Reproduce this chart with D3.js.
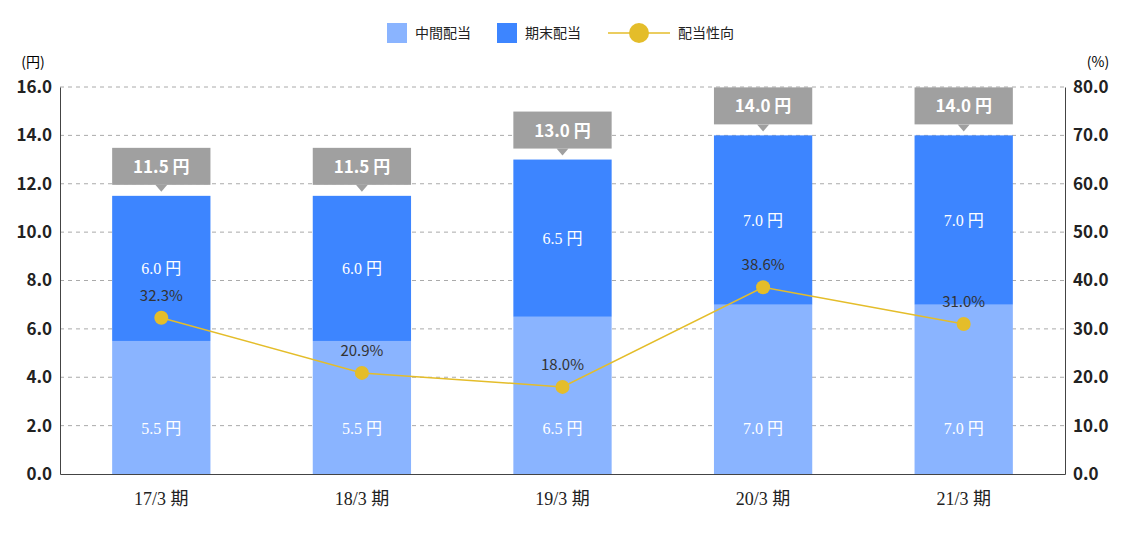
<!DOCTYPE html>
<html><head><meta charset="utf-8">
<script src="https://cdn.jsdelivr.net/npm/d3@7"></script>
<style>body{margin:0;background:#fff}</style></head>
<body><div id="chart"></div>
<script>
var periods = ["17/3 期", "18/3 期", "19/3 期", "20/3 期", "21/3 期"];
var interim = [5.5, 5.5, 6.5, 7.0, 7.0];
var yearEnd = [6.0, 6.0, 6.5, 7.0, 7.0];
var payout = [32.3, 20.9, 18.0, 38.6, 31.0];
var leftTicks = [0, 2, 4, 6, 8, 10, 12, 14, 16];
var rightTicks = [0, 10, 20, 30, 40, 50, 60, 70, 80];

var W = 1130, H = 538;
var m = {top: 87, right: 65, bottom: 64, left: 60};
var width = W - m.left - m.right, height = H - m.top - m.bottom;
var cLight = "#8ab4ff", cDark = "#3d85ff", cLine = "#e4bd2a";
var sans = "'Noto Sans CJK JP','Noto Sans',sans-serif";

var svg = d3.select("#chart").append("svg").attr("width", W).attr("height", H)
  .style("font-family", sans);
var g = svg.append("g").attr("transform", "translate(" + m.left + "," + m.top + ")");

var x = d3.scaleBand().domain(periods).range([0, width]).paddingInner(0.51).paddingOuter(0.26);
var y = d3.scaleLinear().domain([0, 16]).range([height, 0]);
var y2 = d3.scaleLinear().domain([0, 80]).range([height, 0]);

// grid
g.selectAll(".grid").data(leftTicks.slice(1)).enter().append("line")
  .attr("x1", 0).attr("x2", width).attr("y1", d => y(d)).attr("y2", d => y(d))
  .attr("stroke", "#aaa").attr("stroke-dasharray", "4,4");

// axes
var ax = g.append("g").call(d3.axisLeft(y).tickValues(leftTicks).tickFormat(d3.format(".1f")).tickSize(0).tickPadding(8));
var ax2 = g.append("g").attr("transform", "translate(" + width + ",0)")
  .call(d3.axisRight(y2).tickValues(rightTicks).tickFormat(d3.format(".1f")).tickSize(0).tickPadding(8));
[ax, ax2].forEach(a => {
  a.select(".domain").attr("stroke", "#444");
  a.selectAll("text").attr("font-size", 17).attr("font-weight", "bold").attr("fill", "#222").attr("font-family", sans);
});
var xa = g.append("g").attr("transform", "translate(0," + height + ")")
  .call(d3.axisBottom(x).tickSize(0).tickPadding(18));
xa.select(".domain").attr("stroke", "#444");
xa.selectAll("text").attr("font-size", 18).attr("fill", "#222").attr("font-family", "'Liberation Serif','Noto Sans CJK JP',serif");

svg.append("text").attr("x", 33).attr("y", 67).attr("text-anchor", "middle").attr("font-size", 14).text("(円)");
svg.append("text").attr("x", 1098).attr("y", 67).attr("text-anchor", "middle").attr("font-size", 14).text("(%)");

// bars
var bw = x.bandwidth();
g.selectAll(".b1").data(periods).enter().append("rect")
  .attr("x", d => x(d)).attr("width", bw)
  .attr("y", (d, i) => y(interim[i])).attr("height", (d, i) => height - y(interim[i])).attr("fill", cLight);
g.selectAll(".b2").data(periods).enter().append("rect")
  .attr("x", d => x(d)).attr("width", bw)
  .attr("y", (d, i) => y(interim[i] + yearEnd[i])).attr("height", (d, i) => y(interim[i]) - y(interim[i] + yearEnd[i])).attr("fill", cDark);

var segFont = "'Liberation Serif','Noto Sans CJK JP',serif";
g.selectAll(".l1").data(periods).enter().append("text")
  .attr("x", d => x(d) + bw / 2).attr("y", y(1.9) + 6)
  .attr("text-anchor", "middle").attr("fill", "#fff").attr("font-size", 16).attr("font-family", segFont)
  .text((d, i) => interim[i].toFixed(1) + " 円");
g.selectAll(".l2").data(periods).enter().append("text")
  .attr("x", d => x(d) + bw / 2).attr("y", (d, i) => y(interim[i] + yearEnd[i] / 2) + 6)
  .attr("text-anchor", "middle").attr("fill", "#fff").attr("font-size", 16).attr("font-family", segFont)
  .text((d, i) => yearEnd[i].toFixed(1) + " 円");

// total callouts
periods.forEach(function(p, i) {
  var t = interim[i] + yearEnd[i], cx = x(p) + bw / 2, by = y(t) - 11;
  var c = g.append("g");
  c.append("rect").attr("x", x(p)).attr("y", by - 37).attr("width", bw).attr("height", 37).attr("fill", "#a0a0a0");
  c.append("path").attr("d", "M" + (cx - 6) + "," + by + "L" + (cx + 6) + "," + by + "L" + cx + "," + (by + 7) + "Z").attr("fill", "#a0a0a0");
  c.append("text").attr("x", cx).attr("y", by - 12).attr("text-anchor", "middle").attr("fill", "#fff")
    .attr("font-size", 17).attr("font-weight", "bold").text(t.toFixed(1) + " 円");
});

// payout line
var line = d3.line().x((d, i) => x(periods[i]) + bw / 2).y(d => y2(d));
g.append("path").datum(payout).attr("d", line).attr("fill", "none").attr("stroke", cLine).attr("stroke-width", 1.5);
g.selectAll(".pt").data(payout).enter().append("circle")
  .attr("cx", (d, i) => x(periods[i]) + bw / 2).attr("cy", d => y2(d)).attr("r", 7).attr("fill", cLine);
g.selectAll(".pl").data(payout).enter().append("text")
  .attr("x", (d, i) => x(periods[i]) + bw / 2).attr("y", d => y2(d) - 17)
  .attr("text-anchor", "middle").attr("font-size", 15).attr("fill", "#333").text(d => d.toFixed(1) + "%");

// legend
var lg = svg.append("g").attr("font-size", 14).attr("fill", "#222");
lg.append("rect").attr("x", 387).attr("y", 23).attr("width", 20).attr("height", 20).attr("fill", cLight);
lg.append("text").attr("x", 415).attr("y", 38).text("中間配当");
lg.append("rect").attr("x", 497).attr("y", 23).attr("width", 20).attr("height", 20).attr("fill", cDark);
lg.append("text").attr("x", 525).attr("y", 38).text("期末配当");
lg.append("line").attr("x1", 608).attr("x2", 670).attr("y1", 33).attr("y2", 33).attr("stroke", cLine).attr("stroke-width", 1.5);
lg.append("circle").attr("cx", 639).attr("cy", 33).attr("r", 10).attr("fill", cLine);
lg.append("text").attr("x", 678).attr("y", 38).text("配当性向");
</script></body></html>
